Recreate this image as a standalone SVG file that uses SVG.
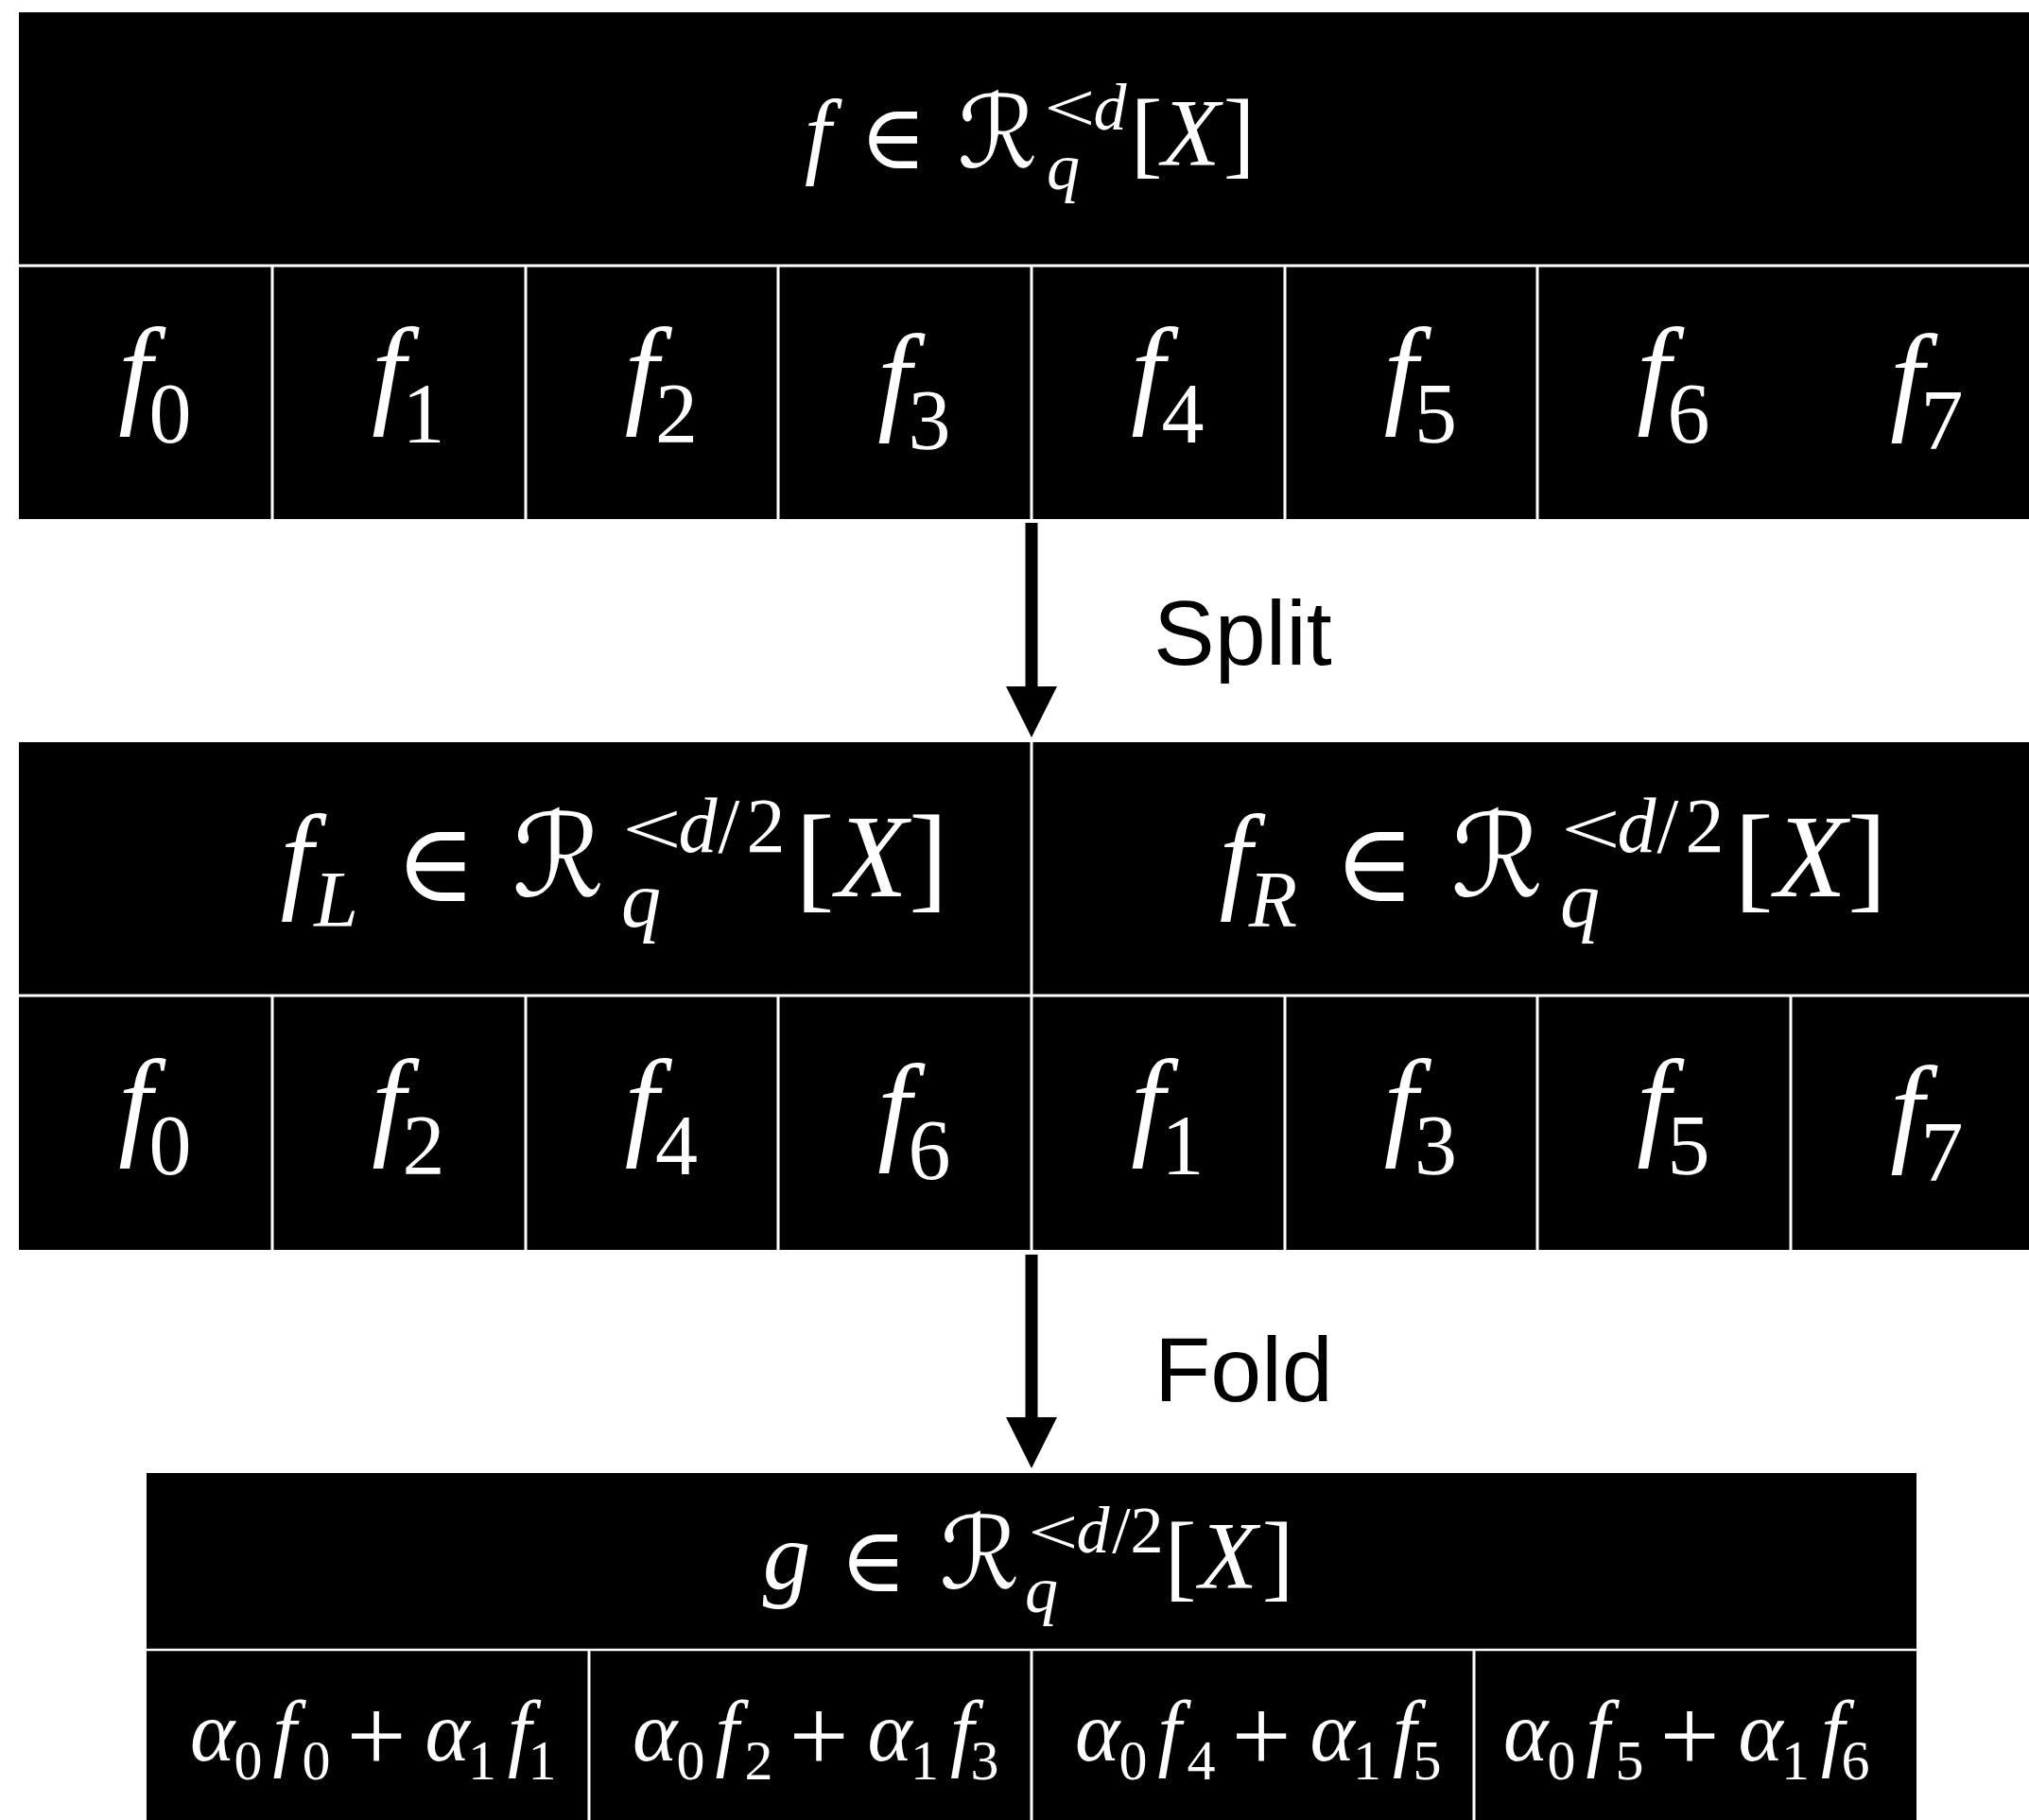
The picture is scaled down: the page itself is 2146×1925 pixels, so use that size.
<svg xmlns="http://www.w3.org/2000/svg" width="2146" height="1925" viewBox="0 0 2146 1925">
<style>
.blk{fill:#000}
.wl{stroke:#fff;stroke-width:3;fill:none}
.wl2{stroke:#fff;stroke-width:2.5;fill:none}
text{fill:#fff;text-anchor:middle}
.mi{font-family:"Liberation Serif","Times New Roman",serif;font-style:italic}
.mr{font-family:"Liberation Serif","Times New Roman",serif}
.sym{font-family:"DejaVu Serif","DejaVu Sans",serif}
.lbl{font-family:"Liberation Sans",Arial,sans-serif;fill:#000;text-anchor:start;font-size:97px}
.c1{font-size:128px}.c1s{font-size:90px}
.b{font-size:90px}.bs{font-size:60px}.pl{font-size:112px}
</style>
<rect width="2146" height="1925" fill="#fff"/>

<g id="node-f">
<rect class="blk" x="20" y="13" width="2126" height="536"/>
<line class="wl" x1="20" y1="281" x2="2146" y2="281"/>
<path class="wl" d="M288 281V549M556 281V549M823 281V549M1091 281V549M1359 281V549M1626 281V549"/>
<text class="mi" x="865" y="175" font-size="101">f</text>
<text class="sym" x="944.5" y="178" font-size="96">∈</text>
<text class="sym" x="1055" y="177" font-size="106">ℛ</text>
<text class="mr" transform="translate(1131.5,139) scale(1.3,1)" font-size="74">&lt;</text>
<text class="mi" x="1174" y="137" font-size="70">d</text>
<text class="mi" x="1124.5" y="200" font-size="70">q</text>
<text class="mr" x="1212.5" y="175" font-size="101">[</text>
<text class="mi" x="1259.5" y="175" font-size="101">X</text>
<text class="mr" x="1310.5" y="175" font-size="101">]</text>
</g>

<g id="row1">
<text class="mi c1" x="143" y="435">f</text><text class="mr c1s" x="180" y="468">0</text>
<text class="mi c1" x="411" y="435">f</text><text class="mr c1s" x="448" y="468">1</text>
<text class="mi c1" x="678.5" y="435">f</text><text class="mr c1s" x="715.5" y="468">2</text>
<text class="mi c1" x="946" y="442">f</text><text class="mr c1s" x="983" y="475">3</text>
<text class="mi c1" x="1214" y="435">f</text><text class="mr c1s" x="1251" y="468">4</text>
<text class="mi c1" x="1481.5" y="435">f</text><text class="mr c1s" x="1518.5" y="468">5</text>
<text class="mi c1" x="1749" y="435">f</text><text class="mr c1s" x="1786" y="468">6</text>
<text class="mi c1" x="2017" y="442">f</text><text class="mr c1s" x="2054" y="475">7</text>
</g>

<g id="node-split">
<rect class="blk" x="20" y="785" width="2126" height="537"/>
<line class="wl" x1="20" y1="1053" x2="2146" y2="1053"/>
<path class="wl" d="M1091 785V1322M288 1053V1322M556 1053V1322M823 1053V1322M1359 1053V1322M1626 1053V1322M1894 1053V1322"/>
<g id="fL">
<text class="mi" x="314" y="948" font-size="124">f</text>
<text class="mi" x="355.5" y="980" font-size="84">L</text>
<text class="sym" x="461" y="953" font-size="116">∈</text>
<text class="sym" x="590.5" y="948" font-size="122">ℛ</text>
<text class="mr" transform="translate(689.5,904) scale(1.4,1)" font-size="80">&lt;</text>
<text class="mi" x="738" y="901" font-size="82">d</text>
<text class="mr" x="771" y="901" font-size="82">/</text>
<text class="mr" x="810" y="901" font-size="82">2</text>
<text class="mi" x="678" y="980" font-size="84">q</text>
<text class="mr" x="862" y="948" font-size="124">[</text>
<text class="mi" x="922" y="948" font-size="124">X</text>
<text class="mr" x="982" y="948" font-size="124">]</text>
</g>
<g id="fR">
<text class="mi" x="1307" y="948" font-size="124">f</text>
<text class="mi" x="1346.5" y="980" font-size="84">R</text>
<text class="sym" x="1454" y="953" font-size="116">∈</text>
<text class="sym" x="1583.5" y="948" font-size="122">ℛ</text>
<text class="mr" transform="translate(1682.5,904) scale(1.4,1)" font-size="80">&lt;</text>
<text class="mi" x="1731" y="901" font-size="82">d</text>
<text class="mr" x="1764" y="901" font-size="82">/</text>
<text class="mr" x="1803" y="901" font-size="82">2</text>
<text class="mi" x="1671" y="980" font-size="84">q</text>
<text class="mr" x="1855" y="948" font-size="124">[</text>
<text class="mi" x="1915" y="948" font-size="124">X</text>
<text class="mr" x="1975" y="948" font-size="124">]</text>
</g>
</g>

<g id="row2">
<text class="mi c1" x="143" y="1209">f</text><text class="mr c1s" x="180" y="1242">0</text>
<text class="mi c1" x="411" y="1209">f</text><text class="mr c1s" x="448" y="1242">2</text>
<text class="mi c1" x="678.5" y="1209">f</text><text class="mr c1s" x="715.5" y="1242">4</text>
<text class="mi c1" x="946" y="1214">f</text><text class="mr c1s" x="983" y="1247">6</text>
<text class="mi c1" x="1214" y="1209">f</text><text class="mr c1s" x="1251" y="1242">1</text>
<text class="mi c1" x="1481.5" y="1209">f</text><text class="mr c1s" x="1518.5" y="1242">3</text>
<text class="mi c1" x="1749" y="1209">f</text><text class="mr c1s" x="1786" y="1242">5</text>
<text class="mi c1" x="2017" y="1216">f</text><text class="mr c1s" x="2054" y="1249">7</text>
</g>

<g id="node-g">
<rect class="blk" x="155" y="1558" width="1872" height="367"/>
<line class="wl2" x1="155" y1="1745" x2="2027" y2="1745"/>
<path class="wl" d="M623 1745V1925M1091 1745V1925M1559 1745V1925"/>
<text class="mi" x="832" y="1680" font-size="101">g</text>
<text class="sym" x="923.5" y="1683" font-size="96">∈</text>
<text class="sym" x="1036" y="1680" font-size="106">ℛ</text>
<text class="mr" transform="translate(1114,1644) scale(1.35,1)" font-size="70">&lt;</text>
<text class="mi" x="1156" y="1642" font-size="70">d</text>
<text class="mr" x="1186" y="1642" font-size="70">/</text>
<text class="mr" x="1213" y="1642" font-size="70">2</text>
<text class="mi" x="1101.5" y="1705" font-size="70">q</text>
<text class="mr" x="1248.5" y="1680" font-size="101">[</text>
<text class="mi" x="1299" y="1680" font-size="101">X</text>
<text class="mr" x="1351.5" y="1680" font-size="101">]</text>
</g>

<g id="row3">
<g id="cell-g0">
<text class="mi b" x="224.5" y="1862">α</text><text class="mr bs" x="262.5" y="1882">0</text>
<text class="mi b" x="301" y="1862">f</text><text class="mr bs" x="334.5" y="1882">0</text>
<text class="mr pl" x="398" y="1874">+</text>
<text class="mi b" x="473" y="1862">α</text><text class="mr bs" x="510" y="1882">1</text>
<text class="mi b" x="549.5" y="1862">f</text><text class="mr bs" x="573.5" y="1882">1</text>
</g>
<g id="cell-g1">
<text class="mi b" x="692.5" y="1862">α</text><text class="mr bs" x="730.5" y="1882">0</text>
<text class="mi b" x="769" y="1862">f</text><text class="mr bs" x="802.5" y="1882">2</text>
<text class="mr pl" x="866" y="1874">+</text>
<text class="mi b" x="941" y="1862">α</text><text class="mr bs" x="978" y="1882">1</text>
<text class="mi b" x="1017.5" y="1862">f</text><text class="mr bs" x="1041.5" y="1882">3</text>
</g>
<g id="cell-g2">
<text class="mi b" x="1160.5" y="1862">α</text><text class="mr bs" x="1198.5" y="1882">0</text>
<text class="mi b" x="1237" y="1862">f</text><text class="mr bs" x="1270.5" y="1882">4</text>
<text class="mr pl" x="1334" y="1874">+</text>
<text class="mi b" x="1409" y="1862">α</text><text class="mr bs" x="1446" y="1882">1</text>
<text class="mi b" x="1485.5" y="1862">f</text><text class="mr bs" x="1509.5" y="1882">5</text>
</g>
<g id="cell-g3">
<text class="mi b" x="1613.5" y="1862">α</text><text class="mr bs" x="1651.5" y="1882">0</text>
<text class="mi b" x="1690" y="1862">f</text><text class="mr bs" x="1723.5" y="1882">5</text>
<text class="mr pl" x="1787" y="1874">+</text>
<text class="mi b" x="1862" y="1862">α</text><text class="mr bs" x="1899" y="1882">1</text>
<text class="mi b" x="1938.5" y="1862">f</text><text class="mr bs" x="1962.5" y="1882">6</text>
</g>
</g>

<g id="connectors">
<rect x="1084.5" y="553" width="13" height="175" fill="#000"/>
<polygon points="1064,726 1118,726 1091,780" fill="#000"/>
<text class="lbl" x="1220" y="703">Split</text>
<rect x="1084.5" y="1327" width="13" height="174" fill="#000"/>
<polygon points="1064,1499 1118,1499 1091,1553" fill="#000"/>
<text class="lbl" x="1221" y="1482">Fold</text>
</g>
</svg>
